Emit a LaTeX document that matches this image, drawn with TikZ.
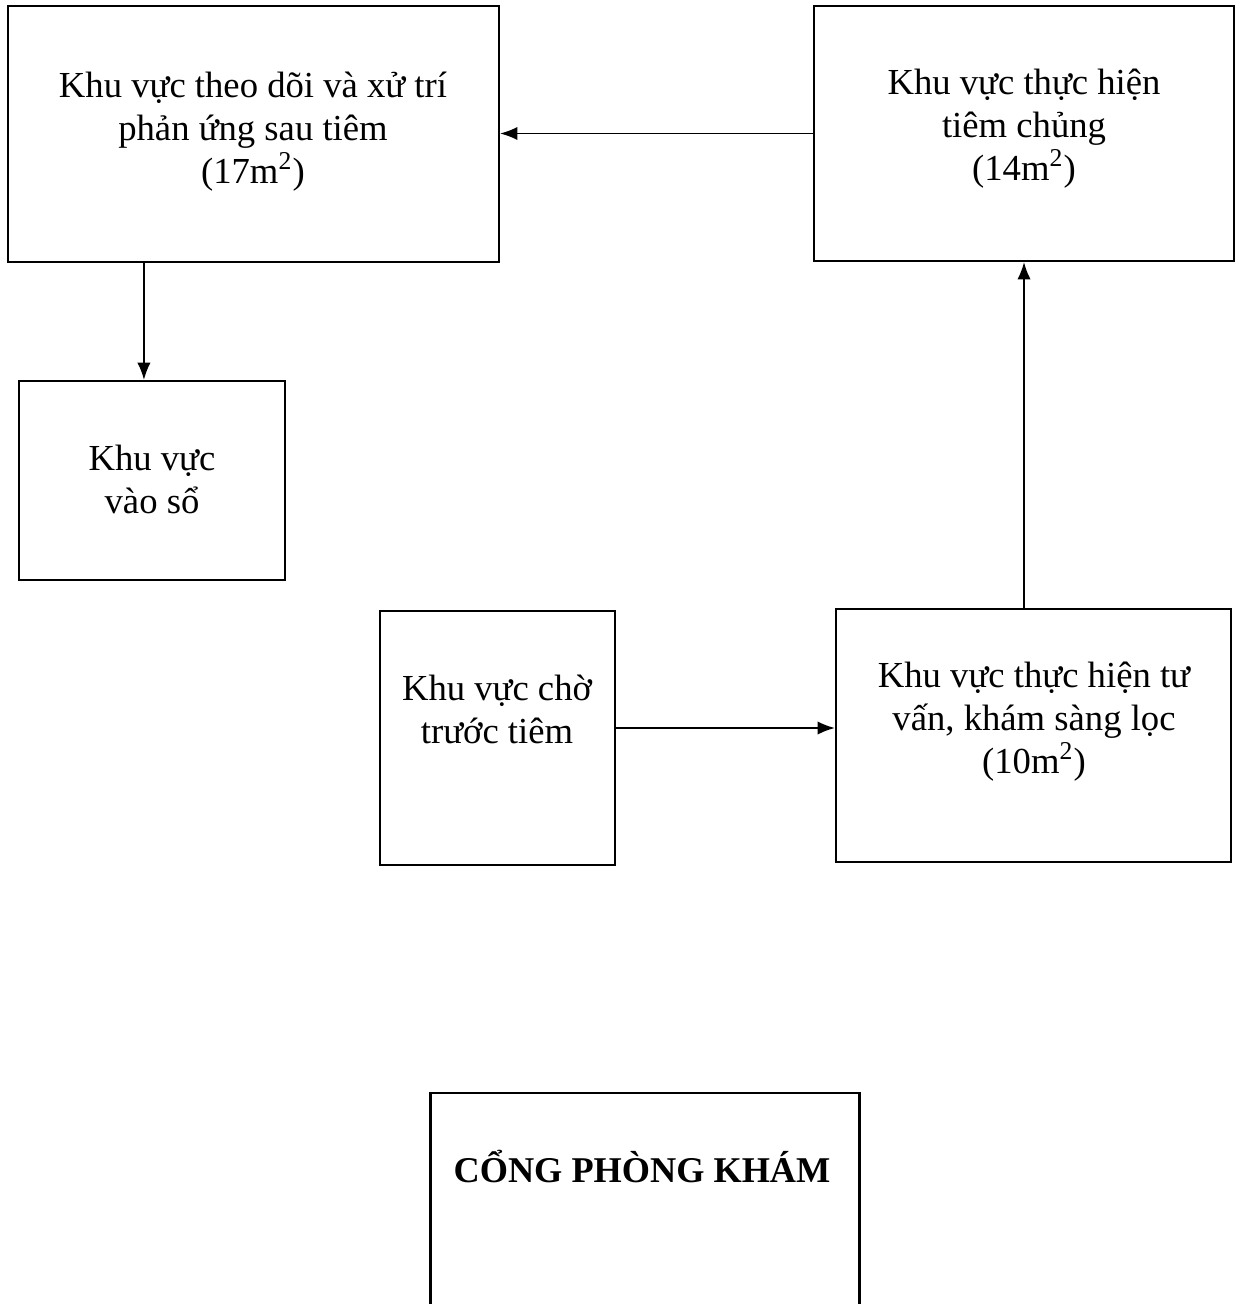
\documentclass[tikz,border=0pt]{standalone}
\usepackage{fontspec}
\setmainfont{Liberation Serif}
\usetikzlibrary{arrows.meta,calc}
\tikzset{
    area/.style={rectangle,draw,line width=0.8pt,inner sep=0pt},
    areatext/.style={align=center,inner sep=0pt,font=\fontsize{13.75}{16.1}\selectfont},
    directed/.style={line width=0.7pt,arrows={-Latex[length=6.5pt,width=5pt]}},
}

\begin{document}
\begin{tikzpicture}[x=0.375pt,y=-0.375pt]
	\useasboundingbox (0,0) rectangle (1239,1304);
	\node[area,minimum width=184.1pt,minimum height=96pt] (obs) at (253.5,134) {};
	\node[area,minimum width=157.5pt,minimum height=95.6pt] (inj) at (1024,133.5) {};
	\node[area,minimum width=99.75pt,minimum height=74.6pt] (reg) at (152,480.5) {};
	\node[area,minimum width=88.1pt,minimum height=95.25pt] (wait) at (497.5,738) {};
	\node[area,minimum width=148.1pt,minimum height=94.9pt] (scr) at (1033.5,735.5) {};
	\node[inner sep=0pt,minimum width=160.5pt,minimum height=82pt] (gate) at (645,1202.5) {};
	\draw[line width=0.8pt] (gate.south west) -- (gate.north west) -- (gate.north east) -- (gate.south east);

	\node[areatext] (obst) at (253,132) {Khu vực theo dõi và xử trí\\phản ứng sau tiêm\\(17m\textsuperscript{2})};
	\node[areatext] (injt) at (1024,129) {Khu vực thực hiện\\tiêm chủng\\(14m\textsuperscript{2})};
	\node[areatext] (regt) at (152,479) {Khu vực\\vào sổ};
	\node[areatext] (waitt) at (497,709) {Khu vực chờ\\trước tiêm};
	\node[areatext] (scrt) at (1034,722) {Khu vực thực hiện tư\\vấn, khám sàng lọc\\(10m\textsuperscript{2})};
	\node[areatext,font=\fontsize{13.6}{16.1}\selectfont\bfseries] (gatet) at (642,1167) {CỔNG PHÒNG KHÁM};

	\coordinate (wo) at ([yshift=3.75pt]wait.east);
	\draw[directed] (inj.west) -- (inj.west -| obs.east);
	\draw[directed] ($(obs.south west)+(137,0)$) -- ($(reg.north west)+(126,0)$);
	\draw[directed] (wo) -- (wo -| scr.west);
	\draw[directed] (scr.north -| inj.south) -- (inj.south);
\end{tikzpicture}
\end{document}
